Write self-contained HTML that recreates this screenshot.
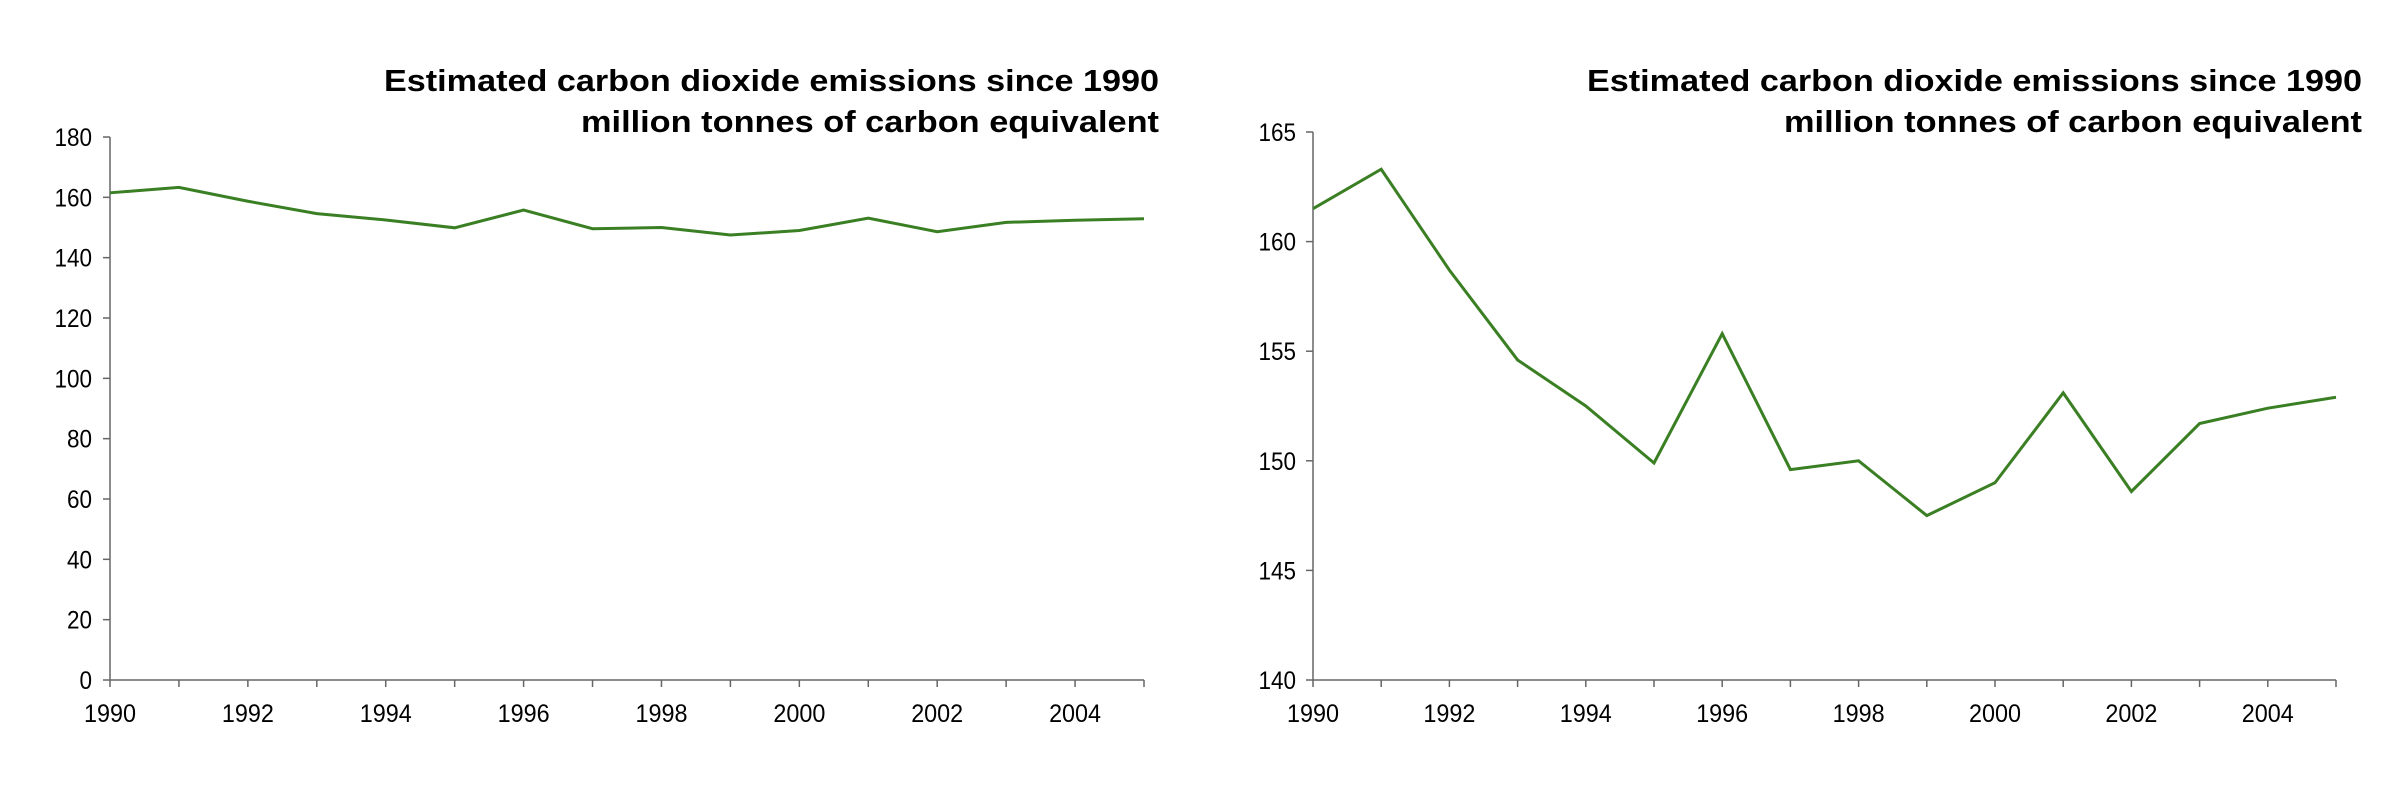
<!DOCTYPE html>
<html><head><meta charset="utf-8"><style>
html,body{margin:0;padding:0;background:#fff;}
svg{display:block;font-family:"Liberation Sans",Arial,sans-serif;}
</style></head><body>
<svg id="s" width="2386" height="788" viewBox="0 0 2386 788" xmlns="http://www.w3.org/2000/svg"></svg>
<script>
const years = [1990,1991,1992,1993,1994,1995,1996,1997,1998,1999,2000,2001,2002,2003,2004,2005];
const emissions = [161.5,163.3,158.7,154.6,152.5,149.9,155.8,149.6,150.0,147.5,149.0,153.1,148.6,151.7,152.4,152.9];
const yearLabels = [1990,1992,1994,1996,1998,2000,2002,2004];
const leftTicks = [0,20,40,60,80,100,120,140,160,180];
const rightTicks = [140,145,150,155,160,165];
const titleLine1 = "Estimated carbon dioxide emissions since 1990";
const titleLine2 = "million tonnes of carbon equivalent";

const NS="http://www.w3.org/2000/svg";
const svg=document.getElementById('s');
function mk(tag,attrs,parent){const e=document.createElementNS(NS,tag);for(const k in attrs)e.setAttribute(k,attrs[k]);(parent||svg).appendChild(e);return e;}

function chart(prefix,x0,x1,yTop,yBot,ticks,titleRight,labelX){
  const g=mk('g',{});
  
  
  const ymin=ticks[0], ymax=ticks[ticks.length-1];
  const xs=v=>x0+(v-years[0])/(years[years.length-1]-years[0])*(x1-x0);
  const ys=v=>yBot-(v-ymin)/(ymax-ymin)*(yBot-yTop);
  const t1=mk('text',{x:titleRight,y:91,'text-anchor':'end','font-size':31,'font-weight':'bold',textLength:775,lengthAdjust:'spacingAndGlyphs',fill:'#000'},g);
  t1.textContent=titleLine1;
  
  
  const t2=mk('text',{x:titleRight,y:132,'text-anchor':'end','font-size':31,'font-weight':'bold',textLength:578,lengthAdjust:'spacingAndGlyphs',fill:'#000'},g);
  t2.textContent=titleLine2;
  
  
  const ya=mk('line',{x1:x0,y1:yTop,x2:x0,y2:yBot,stroke:'#666','stroke-width':1.5},g);
  
  
  const xa=mk('line',{x1:x0,y1:yBot,x2:x1,y2:yBot,stroke:'#666','stroke-width':1.5},g);
  
  
  ticks.forEach(t=>{
    mk('line',{x1:x0-7,y1:ys(t),x2:x0,y2:ys(t),stroke:'#666','stroke-width':1.5},g);
    const l=mk('text',{x:labelX,y:ys(t)+9,'text-anchor':'end','font-size':25,textLength:String(t).length*12.5,lengthAdjust:'spacingAndGlyphs',fill:'#000'},g);
    l.textContent=t;
    
    
  });
  years.forEach(y=>{mk('line',{x1:xs(y),y1:yBot,x2:xs(y),y2:yBot+7,stroke:'#666','stroke-width':1.5},g);});
  yearLabels.forEach(y=>{
    const l=mk('text',{x:xs(y),y:722,'text-anchor':'middle','font-size':25,textLength:52,lengthAdjust:'spacingAndGlyphs',fill:'#000'},g);
    l.textContent=y;
    
    
  });
  const p=mk('polyline',{points:emissions.map((v,i)=>xs(years[i])+','+ys(v)).join(' '),fill:'none',stroke:'#3a7f23','stroke-width':3,'stroke-linejoin':'miter'},g);
  
  
}
chart('left',110,1144,137,680,leftTicks,1159,92);
chart('right',1313,2336,132,680,rightTicks,2362,1296);
</script>
</body></html>
